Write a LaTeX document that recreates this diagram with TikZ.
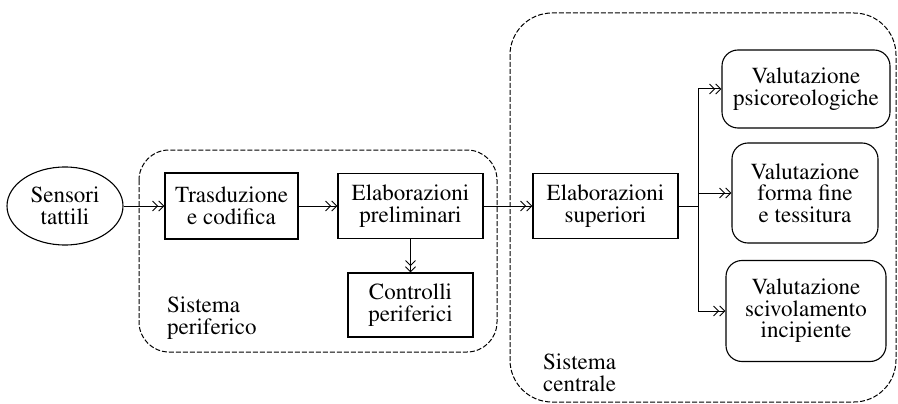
\documentclass[tikz,border=0pt]{standalone}
\usepackage[T1]{fontenc}
\usepackage{mathptmx}
\usetikzlibrary{arrows.meta,positioning,calc,shapes}

\begin{document}
\begin{tikzpicture}[x=1pt, y=-1pt,
    every node/.style={font=\fontsize{23}{21.5}\selectfont, align=center, inner sep=0pt},
    blk/.style={draw, line width=1.1pt, rectangle},
    valbox/.style={draw, line width=1.1pt, rectangle, rounded corners=16pt},
    sensnode/.style={draw, line width=1.1pt, ellipse},
    arr/.style={line width=1pt, -{Straight Barb[length=5pt,width=10pt]Straight Barb[length=5pt,width=10pt]}},
    link/.style={line width=1pt},
    area/.style={line width=1pt, dash pattern=on 5pt off 2pt}]
    \useasboundingbox (0,0) rectangle (898,404);

    % Containers
    \draw[area, rounded corners=30pt] (139,150) rectangle (497,352);
    \draw[area, rounded corners=42pt] (510,13) rectangle (896,402);
    \node[anchor=north west, align=left] (perlabel) at (167,297) {Sistema\\periferico};
    \node[anchor=north west, align=left] (cenlabel) at (543,354) {Sistema\\centrale};

    % Blocks
    \node[sensnode, minimum width=116pt, minimum height=78pt] (sens) at (65,206) {Sensori\\tattili};
    \node[blk, minimum width=133pt, minimum height=66pt] (trasd) at (231.5,206) {Trasduzione\\e codifica};
    \node[blk, minimum width=145pt, minimum height=65pt] (prelim) at (410.5,206) {Elaborazioni\\preliminari};
    \node[blk, minimum width=125pt, minimum height=64pt] (ctrl) at (410.5,305) {Controlli\\periferici};
    \node[blk, minimum width=145pt, minimum height=65pt] (sup) at (605.5,206) {Elaborazioni\\superiori};

    % Evaluations
    \node[valbox, minimum width=168pt, minimum height=78pt] (psico) at (806,89) {Valutazione\\psicoreologiche};
    \node[valbox, minimum width=146pt, minimum height=100pt] (forma) at (805,193) {Valutazione\\forma fine\\e tessitura};
    \node[valbox, minimum width=160pt, minimum height=101pt] (scivol) at (806,311) {Valutazione\\scivolamento\\incipiente};

    % Connectors
    \draw[arr] (sens.east) -- (trasd.west);
    \draw[arr] (trasd.east) -- (prelim.west);
    \draw[arr] (prelim.east) -- (sup.west);
    \draw[arr] (prelim.south) -- (ctrl.north);
    \coordinate (fork) at (698,206);
    \draw[link] (sup.east) -- (fork);
    \draw[arr] (fork) |- (psico.west);
    \draw[arr] (fork |- forma.west) -- (forma.west);
    \draw[arr] (fork) |- (scivol.west);
\end{tikzpicture}
\end{document}
